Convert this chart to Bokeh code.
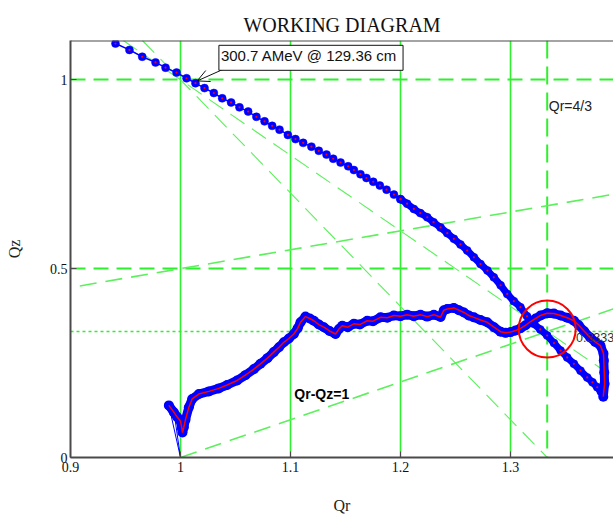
from bokeh.plotting import figure
from bokeh.models import (Range1d, FixedTicker, CustomJSTickFormatter, Span, Slope,
                          Label, Arrow, OpenHead)
from bokeh.core.properties import value
from bokeh.embed import file_html
from bokeh.resources import INLINE

# ---------------- data ----------------
title_text = "WORKING DIAGRAM"
x_label = "Qr"
y_label = "Qz"
x_ticks = [0.9, 1.0, 1.1, 1.2, 1.3]
y_ticks = [0.0, 0.5, 1.0]
x_limits = [0.9, 1.3936]
y_limits = [0.0, 1.104]

# upper working line (sparse dotted part)
upper_sparse_qr = [0.9409, 0.9536, 0.9652, 0.9773, 0.9864, 0.9964, 1.0055, 1.0136, 1.0218,
                   1.0303, 1.0379, 1.0460, 1.0536, 1.0615, 1.0690, 1.0764, 1.0833, 1.0900,
                   1.0976, 1.1045, 1.1115, 1.1190, 1.1257, 1.1327, 1.1388, 1.1455, 1.1524,
                   1.1576, 1.1636, 1.1690, 1.1752, 1.1812, 1.1873, 1.1940, 1.2000]
upper_sparse_qz = [1.096, 1.079, 1.061, 1.046, 1.032, 1.019, 1.004, 0.991, 0.978,
                   0.965, 0.951, 0.940, 0.927, 0.916, 0.902, 0.890, 0.878, 0.868,
                   0.854, 0.843, 0.833, 0.823, 0.812, 0.802, 0.791, 0.781, 0.771,
                   0.761, 0.750, 0.740, 0.730, 0.720, 0.709, 0.696, 0.684]
# upper working line (dense part)
upper_dense_qr = [1.2000, 1.2060, 1.2121, 1.2180, 1.2243, 1.2300, 1.2364, 1.2425, 1.2485,
                  1.2545, 1.2606, 1.2667, 1.2727, 1.2790, 1.2848, 1.2910, 1.2970, 1.3030,
                  1.3090, 1.3150, 1.3212, 1.3270, 1.3333, 1.3395, 1.3455, 1.3515, 1.3576,
                  1.3636, 1.3697, 1.3745, 1.3788, 1.3820, 1.3842]
upper_dense_qz = [0.684, 0.672, 0.658, 0.647, 0.636, 0.623, 0.609, 0.594, 0.579,
                  0.564, 0.548, 0.530, 0.512, 0.495, 0.477, 0.456, 0.433, 0.414,
                  0.398, 0.374, 0.354, 0.339, 0.323, 0.303, 0.283, 0.265, 0.248,
                  0.230, 0.212, 0.199, 0.186, 0.175, 0.164]

# lower working line
lower_qr = [0.9894, 0.9939, 0.9970, 1.0000, 1.0012, 1.0018, 1.0030, 1.0045, 1.0076, 1.0106,
            1.0167, 1.0258, 1.0348, 1.0424, 1.0515, 1.0590, 1.0667, 1.0727, 1.0790, 1.0848,
            1.0895, 1.0939, 1.0985, 1.1030, 1.1065, 1.1091, 1.1136, 1.1175, 1.1212, 1.1258,
            1.1303, 1.1355, 1.1409, 1.1440, 1.1470, 1.1520, 1.1576, 1.1630, 1.1697, 1.1750,
            1.1818, 1.1880, 1.1939, 1.2000, 1.2060, 1.2120, 1.2182, 1.2242, 1.2303, 1.2364,
            1.2394, 1.2424, 1.2485, 1.2530, 1.2576, 1.2620, 1.2667, 1.2727, 1.2788, 1.2850,
            1.2909, 1.2955, 1.3000, 1.3045, 1.3091, 1.3136, 1.3182, 1.3228, 1.3273, 1.3333,
            1.3394, 1.3455, 1.3515, 1.3576, 1.3620, 1.3670, 1.3724, 1.3770, 1.3818, 1.3845,
            1.3848, 1.3852, 1.3855, 1.3843]
lower_qz = [0.138, 0.120, 0.107, 0.096, 0.078, 0.066, 0.080, 0.100, 0.133, 0.155,
            0.168, 0.175, 0.183, 0.192, 0.204, 0.218, 0.234, 0.248, 0.263, 0.279,
            0.292, 0.305, 0.315, 0.327, 0.342, 0.358, 0.373, 0.368, 0.362, 0.352,
            0.345, 0.335, 0.327, 0.340, 0.349, 0.345, 0.354, 0.352, 0.362, 0.361,
            0.371, 0.370, 0.376, 0.374, 0.378, 0.374, 0.378, 0.373, 0.378, 0.372,
            0.390, 0.393, 0.396, 0.390, 0.384, 0.376, 0.371, 0.364, 0.358, 0.345,
            0.333, 0.330, 0.332, 0.336, 0.342, 0.350, 0.360, 0.368, 0.376, 0.382,
            0.381, 0.376, 0.370, 0.362, 0.350, 0.334, 0.318, 0.306, 0.296, 0.275,
            0.257, 0.225, 0.195, 0.161]

# thin lead-in lines to (1, 0)
lead_qr = [0.9894, 1.0000, 0.9945]
lead_qz = [0.138, 0.000, 0.112]

# resonance lines
qr_resonance = 4.0 / 3.0
qz_resonance = 1.0 / 3.0
res_gradients = [0.5, 1.0, -2.0, -3.0]
res_intercepts = [0.0, -1.0, 3.0, 4.0]

# highlighted crossing
circle_qr = [4.0 / 3.0]
circle_qz = [0.34]

# annotation
ann_text = "300.7 AMeV @ 129.36 cm"
ann_point = (1.0152, 0.997)
ann_tail = (1.0425, 1.0325)
ann_box_center = (1.1186, 1.0582)

labels_text = ["Qr=4/3", "Qr-Qz=1"]
labels_qr = [1.3348, 1.1035]
labels_qz = [0.931, 0.168]
res_value_text = ["0.3333"]
res_value_qr = [1.3595]
res_value_qz = [0.318]

# ---------------- styles ----------------
GREEN = "#2ef02e"
LGREEN = "#5cf05c"
BLUE = "#0000ff"
RED = "#ff0000"
AXIS = "#4a4a4a"

p = figure(width=613, height=516, output_backend="svg", toolbar_location=None,
           x_range=Range1d(*x_limits), y_range=Range1d(*y_limits),
           min_border_left=70, min_border_right=0, min_border_top=40, min_border_bottom=59,
           background_fill_color="white", border_fill_color="white")
p.outline_line_color = None

p.title.text = title_text
p.title.align = "center"
p.title.text_font = "Liberation Serif"
p.title.text_font_size = "20px"
p.title.text_font_style = "normal"
p.title.text_color = "#111111"
p.title.standoff = 9

fmt = CustomJSTickFormatter(code="return String(Math.round(tick*1000)/1000);")
for ax, ticks, lab in ((p.xaxis[0], x_ticks, x_label), (p.yaxis[0], y_ticks, y_label)):
    ax.ticker = FixedTicker(ticks=ticks)
    ax.formatter = fmt
    ax.axis_label = lab
    ax.axis_label_text_font = "Liberation Serif"
    ax.axis_label_text_font_size = "16px"
    ax.axis_label_text_font_style = "normal"
    ax.axis_label_text_color = "#222222"
    ax.major_label_text_font = "Liberation Serif"
    ax.major_label_text_font_size = "14px"
    ax.major_label_text_color = "#111111"
    ax.axis_line_color = AXIS
    ax.axis_line_width = 2
    ax.major_tick_line_color = AXIS
    ax.major_tick_in = 6
    ax.major_tick_out = 0
    ax.minor_tick_line_color = None

p.yaxis.major_label_standoff = 3
p.yaxis.axis_label_standoff = 24
p.xaxis.major_label_standoff = 4
p.xaxis.axis_label_standoff = 22

p.xgrid.ticker = FixedTicker(ticks=x_ticks)
p.xgrid.grid_line_color = GREEN
p.xgrid.grid_line_width = 1.6
p.ygrid.ticker = FixedTicker(ticks=y_ticks)
p.ygrid.grid_line_color = GREEN
p.ygrid.grid_line_width = 2
p.ygrid.grid_line_dash = "15 8"

# top frame border
p.add_layout(Span(location=y_limits[1], dimension="width", line_color=AXIS, line_width=2))

# resonance lines
p.add_layout(Span(location=qr_resonance, dimension="height", line_color=GREEN,
                  line_width=2, line_dash="18 8", level="underlay"))
p.add_layout(Span(location=qz_resonance, dimension="width", line_color=GREEN,
                  line_width=1.5, line_dash="3 3", level="underlay"))
res_widths = [1.6, 1.6, 1.1, 1.1]
for g, b, w in zip(res_gradients, res_intercepts, res_widths):
    p.add_layout(Slope(gradient=g, y_intercept=b, line_color=LGREEN, line_width=w,
                       line_dash="17 9", level="underlay"))

# texts
p.text(x=labels_qr, y=labels_qz, text=labels_text,
       text_font=value("Liberation Sans"), text_font_size="14px",
       text_font_style=["normal", "bold"],
       text_color=["#222222", "#000000"],
       text_baseline="middle", text_align="left")

# lead-in lines
p.line(lead_qr, lead_qz, line_color=BLUE, line_width=1)

# upper working line
p.line(upper_sparse_qr + upper_dense_qr, upper_sparse_qz + upper_dense_qz,
       line_color=BLUE, line_width=1.5)
p.line(upper_dense_qr, upper_dense_qz, line_color=BLUE, line_width=7)
p.scatter(upper_sparse_qr + upper_dense_qr, upper_sparse_qz + upper_dense_qz,
          size=8, fill_color=BLUE, line_color=BLUE, line_width=0.5)
p.scatter(upper_sparse_qr + upper_dense_qr, upper_sparse_qz + upper_dense_qz,
          size=2.2, fill_color=RED, line_color=None)

# lower working line
p.line(lower_qr, lower_qz, line_color=BLUE, line_width=9, line_join="round")
p.scatter(lower_qr, lower_qz, size=10, fill_color=BLUE, line_color=None)
p.line(lower_qr, lower_qz, line_color=RED, line_width=1.5)

# resonance value text (drawn above curves)
p.text(x=res_value_qr, y=res_value_qz, text=res_value_text,
       text_font=value("Liberation Sans"), text_font_size="12.5px",
       text_color="#333333", text_baseline="middle", text_align="left")

# highlighted crossing
p.circle(circle_qr, circle_qz, radius=28.5, radius_units="screen",
         fill_color=None, line_color=RED, line_width=2)

# annotation
p.add_layout(Arrow(end=OpenHead(size=12, line_width=1, line_color="#111111"),
                   x_start=ann_tail[0], y_start=ann_tail[1],
                   x_end=ann_point[0], y_end=ann_point[1],
                   line_color="#111111", line_width=1))
p.add_layout(Label(x=ann_box_center[0], y=ann_box_center[1], text=ann_text,
                   text_font="Liberation Sans", text_font_size="15px", text_color="#111111",
                   text_align="center", text_baseline="middle",
                   background_fill_color="white", border_line_color="#111111",
                   border_line_width=1, padding=(2, 6, 2, 6)))

open("out.html", "w").write(file_html(p, INLINE))
